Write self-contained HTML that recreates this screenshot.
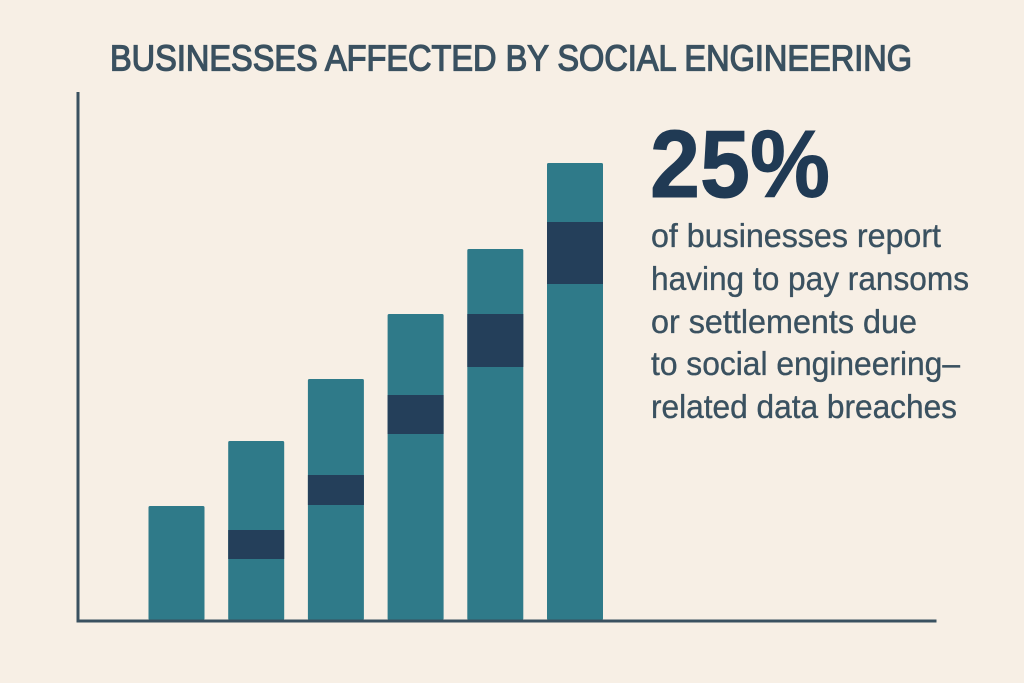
<!DOCTYPE html>
<html lang="en">
<head>
<meta charset="utf-8">
<title>Businesses Affected by Social Engineering</title>
<style>
  html, body { margin: 0; padding: 0; background: #f7efe5; }
  svg { display: block; }
  text { font-family: "Liberation Sans", sans-serif; }
</style>
</head>
<body>
<svg id="chart" width="1024" height="683" viewBox="0 0 1024 683" xmlns="http://www.w3.org/2000/svg">
  <rect x="0" y="0" width="1024" height="683" fill="#f7efe5"/>
  <text x="110" y="70.5" font-size="36" fill="#3a5160" stroke="#3a5160" stroke-width="1.3" textLength="802" lengthAdjust="spacingAndGlyphs">BUSINESSES AFFECTED BY SOCIAL ENGINEERING</text>
  <g id="bars"></g>
  <rect x="76.5" y="92" width="3" height="530" fill="#3a5160"/>
  <rect x="76.5" y="619.5" width="860" height="3" fill="#3a5160"/>
  <text x="650" y="197" font-size="96" font-weight="700" fill="#203a54" stroke="#203a54" stroke-width="1" textLength="180" lengthAdjust="spacingAndGlyphs">25%</text>
  <g font-size="33" fill="#3a5160" stroke="#3a5160" stroke-width="0.35">
    <text x="651" y="247" textLength="290" lengthAdjust="spacingAndGlyphs">of businesses report</text>
    <text x="651" y="290" textLength="318" lengthAdjust="spacingAndGlyphs">having to pay ransoms</text>
    <text x="651" y="333" textLength="266" lengthAdjust="spacingAndGlyphs">or settlements due</text>
    <text x="651" y="375" textLength="309" lengthAdjust="spacingAndGlyphs">to social engineering–</text>
    <text x="651" y="418" textLength="306" lengthAdjust="spacingAndGlyphs">related data breaches</text>
  </g>
</svg>
<script>
// Values are in unlabelled chart units (the chart has no tick labels).
const categories = ["bar-1", "bar-2", "bar-3", "bar-4", "bar-5", "bar-6"];
const barTotals = [28.5, 44.75, 60.25, 76.5, 92.75, 114.25];
const bandStarts = [null, 15.25, 28.75, 46.5, 63.25, 84];
const bandEnds = [null, 22.5, 36.25, 56.25, 76.5, 99.5];

const svgNS = "http://www.w3.org/2000/svg";
const barsGroup = document.getElementById("bars");

function yScale(value) {
  return 620 - value * 4;
}
function xScale(index) {
  return 176.5 + index * 79.7;
}
const barWidth = 56;

function addRect(x, y, width, height, fill, radius) {
  const rect = document.createElementNS(svgNS, "rect");
  rect.setAttribute("x", x);
  rect.setAttribute("y", y);
  rect.setAttribute("width", width);
  rect.setAttribute("height", height);
  rect.setAttribute("fill", fill);
  if (radius) rect.setAttribute("rx", radius);
  barsGroup.appendChild(rect);
  return rect;
}

categories.forEach(function (category, i) {
  const left = xScale(i) - barWidth / 2;
  const top = yScale(barTotals[i]);
  const bar = addRect(left, top, barWidth, yScale(0) - top, "#2f7a89", 1.5);
  
  
  if (bandStarts[i] !== null) {
    const bandTop = yScale(bandEnds[i]);
    const band = addRect(left, bandTop, barWidth, yScale(bandStarts[i]) - bandTop, "#243f5a", 0);
    
    
  }
});
</script>
</body>
</html>
